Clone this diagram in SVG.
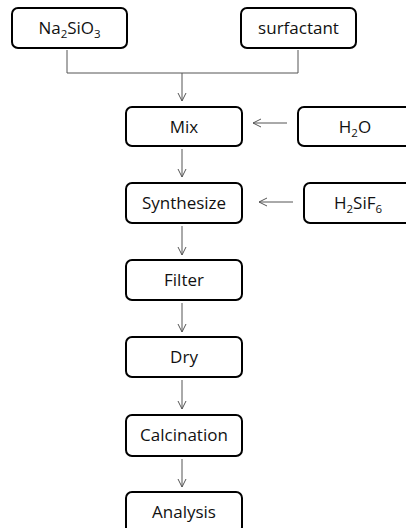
<svg xmlns="http://www.w3.org/2000/svg" width="406" height="528" viewBox="0 0 406 528">
<style>
.box{fill:#fff;stroke:#000;stroke-width:2}
.t{font-family:"Open Sans","Noto Sans",sans-serif;font-size:17px;fill:#111;text-anchor:middle}
.sub{font-size:11.5px}
.c{fill:none;stroke:#555;stroke-width:1}
</style>
<defs>
<marker id="ah" markerWidth="10" markerHeight="10" refX="9" refY="5" orient="auto" markerUnits="userSpaceOnUse">
<path d="M1,1 L9,5 L1,9" fill="none" stroke="#555" stroke-width="1"/>
</marker>
</defs>
<rect width="406" height="528" fill="#fff"/>
<g id="connectors">
<path class="c" d="M67,50 V73 H298 V50"/>
<path class="c" d="M182,73 V101" marker-end="url(#ah)"/>
<path class="c" d="M287,123 H253" marker-end="url(#ah)"/>
<path class="c" d="M182,149 V177" marker-end="url(#ah)"/>
<path class="c" d="M293,202 H259" marker-end="url(#ah)"/>
<path class="c" d="M182,226 V255" marker-end="url(#ah)"/>
<path class="c" d="M182,303 V332" marker-end="url(#ah)"/>
<path class="c" d="M182,380 V409" marker-end="url(#ah)"/>
<path class="c" d="M182,459 V487" marker-end="url(#ah)"/>
</g>
<g id="na2sio3"><rect class="box" x="12" y="8" width="115" height="40" rx="6"/><text class="t" x="69.5" y="34">Na<tspan class="sub" dy="4">2</tspan><tspan dy="-4">SiO</tspan><tspan class="sub" dy="4">3</tspan></text></g>
<g id="surfactant"><rect class="box" x="241" y="8" width="115" height="40" rx="6"/><text class="t" x="298.5" y="34">surfactant</text></g>
<g id="mix"><rect class="box" x="126" y="107" width="116" height="39" rx="6"/><text class="t" x="184" y="133">Mix</text></g>
<g id="h2o"><rect class="box" x="298" y="107" width="116" height="39" rx="6"/><text class="t" x="355" y="133">H<tspan class="sub" dy="4">2</tspan><tspan dy="-4">O</tspan></text></g>
<g id="synthesize"><rect class="box" x="126" y="183" width="116" height="40" rx="6"/><text class="t" x="184" y="209">Synthesize</text></g>
<g id="h2sif6"><rect class="box" x="304" y="183" width="116" height="40" rx="6"/><text class="t" x="358" y="209">H<tspan class="sub" dy="4">2</tspan><tspan dy="-4">SiF</tspan><tspan class="sub" dy="4">6</tspan></text></g>
<g id="filter"><rect class="box" x="126" y="260" width="116" height="40" rx="6"/><text class="t" x="184" y="286">Filter</text></g>
<g id="dry"><rect class="box" x="126" y="337" width="116" height="40" rx="6"/><text class="t" x="184" y="363">Dry</text></g>
<g id="calcination"><rect class="box" x="126" y="415" width="116" height="41" rx="6"/><text class="t" x="184" y="441">Calcination</text></g>
<g id="analysis"><rect class="box" x="126" y="492" width="116" height="41" rx="6"/><text class="t" x="184" y="518">Analysis</text></g>
</svg>
